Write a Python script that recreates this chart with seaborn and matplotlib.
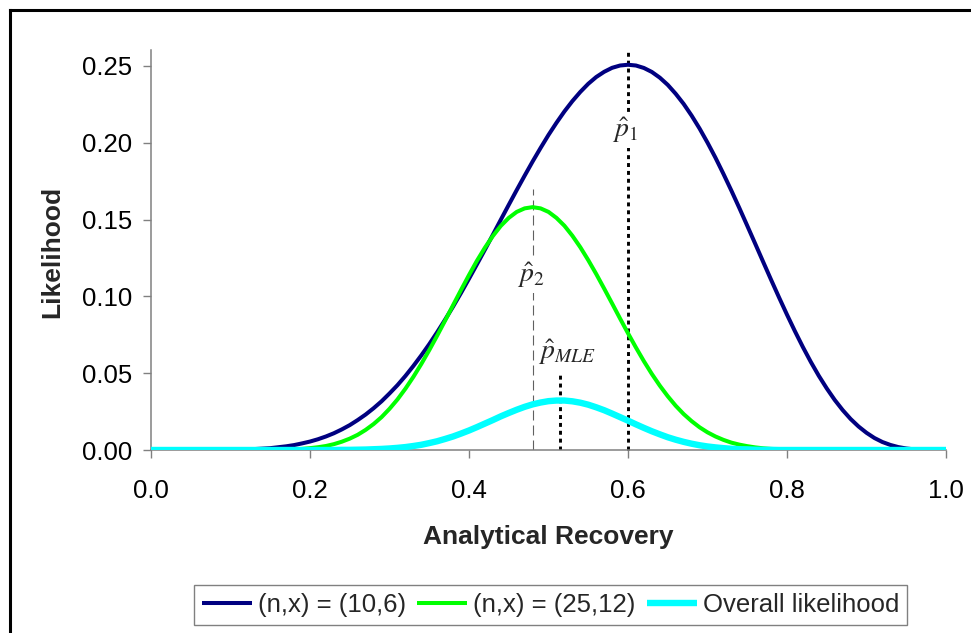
import matplotlib
matplotlib.use("Agg")
import matplotlib.pyplot as plt
from matplotlib.lines import Line2D
import seaborn as sns
import pandas as pd

# Analytical recovery grid and binomial likelihood values for each experiment
recovery = [0.00, 0.01, 0.02, 0.03, 0.04, 0.05, 0.06, 0.07, 0.08, 0.09,
            0.10, 0.11, 0.12, 0.13, 0.14, 0.15, 0.16, 0.17, 0.18, 0.19,
            0.20, 0.21, 0.22, 0.23, 0.24, 0.25, 0.26, 0.27, 0.28, 0.29,
            0.30, 0.31, 0.32, 0.33, 0.34, 0.35, 0.36, 0.37, 0.38, 0.39,
            0.40, 0.41, 0.42, 0.43, 0.44, 0.45, 0.46, 0.47, 0.48, 0.49,
            0.50, 0.51, 0.52, 0.53, 0.54, 0.55, 0.56, 0.57, 0.58, 0.59,
            0.60, 0.61, 0.62, 0.63, 0.64, 0.65, 0.66, 0.67, 0.68, 0.69,
            0.70, 0.71, 0.72, 0.73, 0.74, 0.75, 0.76, 0.77, 0.78, 0.79,
            0.80, 0.81, 0.82, 0.83, 0.84, 0.85, 0.86, 0.87, 0.88, 0.89,
            0.90, 0.91, 0.92, 0.93, 0.94, 0.95, 0.96, 0.97, 0.98, 0.99,
            1.00]

lik_10_6 = [0.0000, 0.0000, 0.0000, 0.0000, 0.0000, 0.0000, 0.0000, 0.0000, 0.0000, 0.0001,
            0.0001, 0.0002, 0.0004, 0.0006, 0.0009, 0.0012, 0.0018, 0.0024, 0.0032, 0.0043,
            0.0055, 0.0070, 0.0088, 0.0109, 0.0134, 0.0162, 0.0195, 0.0231, 0.0272, 0.0317,
            0.0368, 0.0422, 0.0482, 0.0547, 0.0616, 0.0689, 0.0767, 0.0849, 0.0934, 0.1023,
            0.1115, 0.1209, 0.1304, 0.1401, 0.1499, 0.1596, 0.1692, 0.1786, 0.1878, 0.1966,
            0.2051, 0.2130, 0.2204, 0.2271, 0.2331, 0.2384, 0.2428, 0.2462, 0.2488, 0.2503,
            0.2508, 0.2503, 0.2487, 0.2461, 0.2424, 0.2377, 0.2319, 0.2253, 0.2177, 0.2093,
            0.2001, 0.1903, 0.1798, 0.1689, 0.1576, 0.1460, 0.1343, 0.1225, 0.1108, 0.0993,
            0.0881, 0.0773, 0.0670, 0.0573, 0.0483, 0.0401, 0.0326, 0.0260, 0.0202, 0.0153,
            0.0112, 0.0078, 0.0052, 0.0033, 0.0019, 0.0010, 0.0004, 0.0001, 0.0000, 0.0000,
            0.0000]

lik_25_12 = [0.0000, 0.0000, 0.0000, 0.0000, 0.0000, 0.0000, 0.0000, 0.0000, 0.0000, 0.0000,
             0.0000, 0.0000, 0.0000, 0.0000, 0.0000, 0.0001, 0.0002, 0.0003, 0.0005, 0.0007,
             0.0012, 0.0018, 0.0026, 0.0038, 0.0054, 0.0074, 0.0099, 0.0131, 0.0169, 0.0214,
             0.0268, 0.0329, 0.0399, 0.0476, 0.0560, 0.0650, 0.0745, 0.0843, 0.0943, 0.1042,
             0.1139, 0.1232, 0.1317, 0.1393, 0.1459, 0.1511, 0.1550, 0.1573, 0.1581, 0.1573,
             0.1550, 0.1511, 0.1460, 0.1395, 0.1320, 0.1236, 0.1146, 0.1051, 0.0954, 0.0856,
             0.0760, 0.0667, 0.0578, 0.0495, 0.0419, 0.0350, 0.0288, 0.0234, 0.0188, 0.0148,
             0.0115, 0.0088, 0.0066, 0.0048, 0.0035, 0.0025, 0.0017, 0.0011, 0.0007, 0.0005,
             0.0003, 0.0002, 0.0001, 0.0001, 0.0000, 0.0000, 0.0000, 0.0000, 0.0000, 0.0000,
             0.0000, 0.0000, 0.0000, 0.0000, 0.0000, 0.0000, 0.0000, 0.0000, 0.0000, 0.0000,
             0.0000]

lik_overall = [0.0000, 0.0000, 0.0000, 0.0000, 0.0000, 0.0000, 0.0000, 0.0000, 0.0000, 0.0000,
               0.0000, 0.0000, 0.0000, 0.0000, 0.0000, 0.0000, 0.0000, 0.0000, 0.0000, 0.0000,
               0.0000, 0.0000, 0.0000, 0.0000, 0.0001, 0.0001, 0.0002, 0.0003, 0.0005, 0.0007,
               0.0010, 0.0014, 0.0019, 0.0026, 0.0034, 0.0045, 0.0057, 0.0072, 0.0088, 0.0107,
               0.0127, 0.0149, 0.0172, 0.0195, 0.0219, 0.0241, 0.0262, 0.0281, 0.0297, 0.0309,
               0.0318, 0.0322, 0.0322, 0.0317, 0.0308, 0.0295, 0.0278, 0.0259, 0.0237, 0.0214,
               0.0191, 0.0167, 0.0144, 0.0122, 0.0102, 0.0083, 0.0067, 0.0053, 0.0041, 0.0031,
               0.0023, 0.0017, 0.0012, 0.0008, 0.0005, 0.0004, 0.0002, 0.0001, 0.0001, 0.0000,
               0.0000, 0.0000, 0.0000, 0.0000, 0.0000, 0.0000, 0.0000, 0.0000, 0.0000, 0.0000,
               0.0000, 0.0000, 0.0000, 0.0000, 0.0000, 0.0000, 0.0000, 0.0000, 0.0000, 0.0000,
               0.0000]

series_labels = ["(n,x) = (10,6)", "(n,x) = (25,12)", "Overall likelihood"]
series_colors = ["#000080", "#00FF00", "#00FFFF"]
series_widths = [2.9, 2.9, 4.6]

# Maximum-likelihood estimates
p_hat_1 = 0.600
p_hat_2 = 0.480
p_hat_mle = 0.514
x_ticks = [0.0, 0.2, 0.4, 0.6, 0.8, 1.0]
y_ticks = [0.00, 0.05, 0.10, 0.15, 0.20, 0.25]

sns.set_theme(style="white")
plt.rcParams["font.family"] = ["Liberation Sans", "DejaVu Sans"]
plt.rcParams["mathtext.fontset"] = "stix"

W, H = 971, 633
fig = plt.figure(figsize=(W / 100, H / 100), dpi=100)
fig.patch.set_facecolor("white")
ax = fig.add_axes([151 / W, 1 - 450 / H, (946 - 151) / W, 400 / H])

df = pd.DataFrame({
    "recovery": recovery * 3,
    "likelihood": lik_10_6 + lik_25_12 + lik_overall,
    "series": sum([[s] * len(recovery) for s in series_labels], []),
})

for lab, col, lw in zip(series_labels, series_colors, series_widths):
    sub = df[df["series"] == lab]
    sns.lineplot(data=sub, x="recovery", y="likelihood", color=col, lw=lw,
                 label=lab, ax=ax, zorder=3, solid_capstyle="butt")

# Vertical markers at the estimates
dot = (0, (1.35, 1.35))
ax.plot([p_hat_1, p_hat_1], [0, 0.2604], color="black", lw=2.1, ls=dot,
        dash_capstyle="butt", zorder=2, clip_on=False)
ax.plot([p_hat_2, p_hat_2], [0, 0.170], color="#606060", lw=0.8, ls=(0, (9, 4.5)),
        zorder=2)
ax.plot([p_hat_mle, p_hat_mle], [0, 0.050], color="black", lw=2.1, ls=dot,
        dash_capstyle="butt", zorder=2)

box = dict(facecolor="white", edgecolor="none", pad=2)
ax.text(0.596, 0.2083, r"$\hat{p}_1$", fontsize=20, ha="center", va="center",
        bbox=box, zorder=2.5)
ax.text(0.478, 0.1139, r"$\hat{p}_2$", fontsize=20, ha="center", va="center",
        bbox=box, zorder=2.5)
ax.text(0.5233, 0.0638, r"$\hat{p}_{MLE}$", fontsize=20, ha="center", va="center",
        zorder=2.5)

ax.set_xlim(0, 1.0)
ax.set_ylim(0, 0.2604)
ax.set_xticks(x_ticks)
ax.set_yticks(y_ticks)
ax.set_xticklabels([f"{v:.1f}" for v in x_ticks])
ax.set_yticklabels([f"{v:.2f}" for v in y_ticks])

for side in ["top", "right"]:
    ax.spines[side].set_visible(False)
for side in ["left", "bottom"]:
    ax.spines[side].set_color("#808080")
    ax.spines[side].set_linewidth(1.1)

ax.tick_params(axis="both", direction="out", length=5.8, width=1.0, color="#808080",
               labelsize=18.5, labelcolor="black")
ax.tick_params(axis="x", bottom=True, pad=15)
ax.tick_params(axis="y", left=True, pad=8)

ax.set_xlabel("Analytical Recovery", fontsize=19, fontweight="bold")
ax.set_ylabel("Likelihood", fontsize=19, fontweight="bold")
ax.xaxis.label.set_va("center")
ax.xaxis.set_label_coords(0.5, (450 - 537) / 400)
ax.yaxis.label.set_va("center")
ax.yaxis.set_label_coords((52 - 151) / 795, (450 - 252) / 400)

leg = ax.legend(loc="center", bbox_to_anchor=(550.5 / W, 1 - 605 / H),
                bbox_transform=fig.transFigure, ncol=3, frameon=True, fancybox=False,
                edgecolor="#808080", framealpha=1, borderpad=0.3, borderaxespad=0,
                handlelength=1.95, handletextpad=0.23, columnspacing=0.43,
                prop={"size": 18.5})
leg.get_frame().set_linewidth(1.0)

# Frame around the whole chart area (left and top edges)
fig.add_artist(Line2D([9.5 / W, 9.5 / W], [0, 1 - 9.5 / H], transform=fig.transFigure,
                      color="black", lw=2.2, solid_capstyle="projecting"))
fig.add_artist(Line2D([9.5 / W, 1], [1 - 9.5 / H, 1 - 9.5 / H], transform=fig.transFigure,
                      color="black", lw=2.2, solid_capstyle="projecting"))

fig.savefig("out.png", dpi=100)
